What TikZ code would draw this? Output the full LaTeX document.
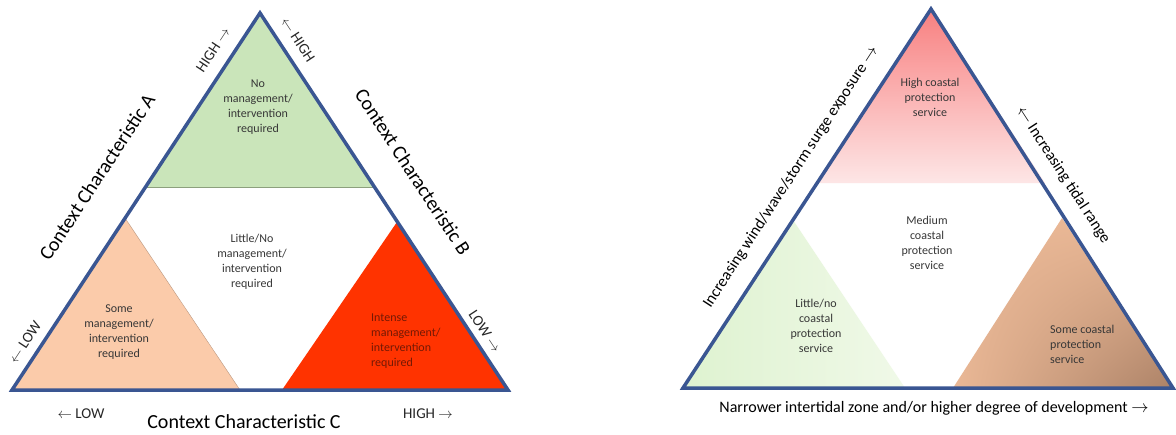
\documentclass[tikz,border=0pt]{standalone}
\usepackage{fontspec}
\setmainfont{Carlito}
\usetikzlibrary{shadings}
\definecolor{edgeblue}{RGB}{58,86,146}
\definecolor{greenA}{RGB}{202,229,186}
\definecolor{greenline}{RGB}{140,160,125}
\definecolor{peach}{RGB}{251,203,170}
\definecolor{redA}{RGB}{255,51,0}
\definecolor{txtgray}{RGB}{55,55,55}
\definecolor{txtred}{RGB}{115,25,5}
\definecolor{pinkTop}{RGB}{248,128,128}
\definecolor{pinkBot}{RGB}{253,230,230}
\definecolor{greenL}{RGB}{222,242,208}
\definecolor{greenR}{RGB}{240,249,232}
\definecolor{tanA}{RGB}{234,184,150}
\definecolor{brownC}{RGB}{172,130,103}
\begin{document}
\begin{tikzpicture}[x=1pt,y=-1pt,
  edge/.style={draw=edgeblue, line width=3.5pt, line join=miter},
  inner/.style={align=center, font=\fontsize{12}{15}\selectfont, text=txtgray, inner sep=0pt},
  axislab/.style={font=\fontsize{20}{24}\selectfont, inner sep=0pt},
  smalllab/.style={font=\fontsize{15}{18}\selectfont, inner sep=0pt, text=black!85},
  sidelab/.style={font=\fontsize{16}{19}\selectfont, inner sep=0pt}]
\useasboundingbox (0,0) rectangle (1176,434);
\fill[white] (0,0) rectangle (1176,434);

% ---------- left diagram ----------
\coordinate (LT) at (260,13);
\coordinate (LBL) at (12,390);
\coordinate (LBR) at (508,390);
\coordinate (g1) at (145.5,187);
\coordinate (g2) at (374.5,187);
\coordinate (pA) at (125,218);
\coordinate (pB) at (240,390);
\coordinate (rA) at (397,222);
\coordinate (rB) at (282,390);

\fill[greenA] (LT) -- (g2) -- (g1) -- cycle;
\draw[greenline, line width=0.8pt] (g1) -- (g2);
\fill[peach] (pA) -- (pB) -- (LBL) -- cycle;
\draw[peach!75!black, line width=0.4pt] (pA) -- (pB);
\fill[redA] (rA) -- (LBR) -- (rB) -- cycle;
\draw[edge] (LT) -- (LBR) -- (LBL) -- cycle;

\node[inner] (tNo) at (258,107) {No\\management/\\intervention\\required};
\node[inner] (tLittle) at (252,262) {Little/No\\management/\\intervention\\required};
\node[inner] (tSome) at (119,332) {Some\\management/\\intervention\\required};
\node[inner, text=txtred, align=left, anchor=west] (tIntense) at (371,341) {Intense\\management/\\intervention\\required};

\node[axislab, rotate=56.7] (labA) at (97,177) {Context Characteristic A};
\node[axislab, rotate=-56.7] (labB) at (413,172) {Context Characteristic B};
\node[axislab, anchor=base] (labC) at (244,428) {Context Characteristic C};

\node[smalllab, rotate=56.7] (hiA) at (213,50) {HIGH $\rightarrow$};
\node[smalllab, rotate=-56.7] (hiB) at (298,40) {$\leftarrow$ HIGH};
\node[smalllab, rotate=56.7] (loA) at (25,342) {$\leftarrow$ LOW};
\node[smalllab, rotate=-56.7] (loB) at (485,331) {LOW $\rightarrow$};
\node[smalllab, anchor=base] (loC) at (81,418) {$\leftarrow$ LOW};
\node[smalllab, anchor=base] (hiC) at (428,418) {HIGH $\rightarrow$};

% ---------- right diagram ----------
\coordinate (RT) at (931,9);
\coordinate (RBL) at (683,388);
\coordinate (RBR) at (1173,388);
\coordinate (k1) at (817,183);
\coordinate (k2) at (1045,183);
\coordinate (lgA) at (793,220);
\coordinate (lgB) at (905,388);
\coordinate (brA) at (1062,218);
\coordinate (brB) at (953,388);

\shade[top color=pinkTop, bottom color=pinkBot] (RT) -- (k2) -- (k1) -- cycle;
\shade[left color=greenL, right color=greenR] (lgA) -- (lgB) -- (RBL) -- cycle;
\shade[upper left=tanA, lower left=tanA, upper right=tanA, lower right=brownC] (brA) -- (RBR) -- (brB) -- cycle;
\draw[edge] (RT) -- (RBR) -- (RBL) -- cycle;

\node[inner] (tHigh) at (930,97) {High coastal\\protection\\service};
\node[inner] (tMed) at (927,243) {Medium\\coastal\\protection\\service};
\node[inner] (tLow) at (816,326) {Little/no\\coastal\\protection\\service};
\node[inner, align=left, anchor=west] (tSomeC) at (1050,344) {Some coastal\\protection\\service};

\node[sidelab, rotate=57] (labWind) at (791,177) {Increasing wind/wave/storm surge exposure $\rightarrow$};
\node[sidelab, rotate=-57] (labTide) at (1063,175) {$\leftarrow$ Increasing tidal range};
\node[sidelab, anchor=base] (labDev) at (934,412) {Narrower intertidal zone and/or higher degree of development $\rightarrow$};
\end{tikzpicture}
\end{document}
